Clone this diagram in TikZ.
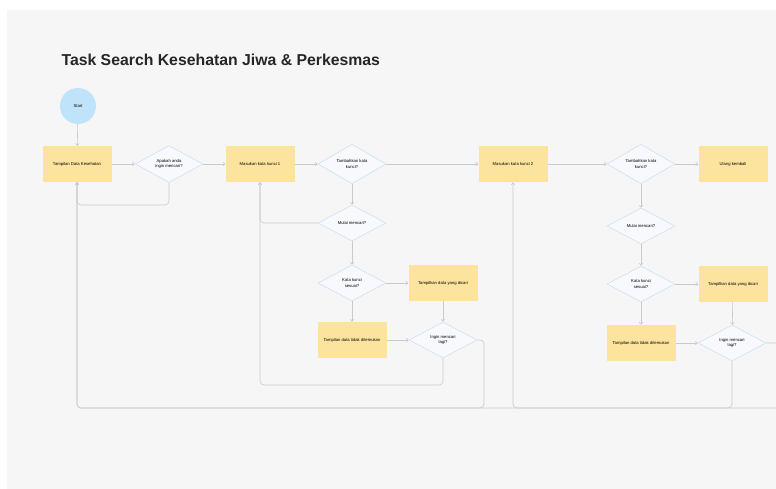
\documentclass[tikz,border=0pt]{standalone}
\usepackage{fontspec}
\setmainfont{Liberation Sans}
\usetikzlibrary{shapes.geometric,arrows.meta}
\definecolor{latar}{HTML}{F6F6F6}
\definecolor{kuning}{HTML}{FDE49E}
\definecolor{biru}{HTML}{BFE3FA}
\definecolor{garisbiru}{HTML}{CFE1F2}
\definecolor{isibiru}{HTML}{F7F9FC}
\definecolor{garis}{HTML}{CACACA}
\tikzset{
  kotak/.style={rectangle,fill=kuning,minimum width=69pt,minimum height=36pt,inner sep=1pt,
    font=\fontsize{4.2}{5.2}\selectfont,align=center},
  tanya/.style={diamond,draw=garisbiru,fill=isibiru,line width=0.6pt,minimum width=68pt,
    minimum height=36pt,inner sep=0pt,font=\fontsize{4.2}{5.6}\selectfont,align=center},
  alur/.style={draw=garis,line width=0.6pt,-{Straight Barb[length=2pt,width=3.5pt]},rounded corners=4pt}
}
\begin{document}
\begin{tikzpicture}[x=1pt,y=-1pt]
    \useasboundingbox (0,0) rectangle (776,489);
    \fill[white] (0,0) rectangle (776,489);
    \fill[latar] (7,10) rectangle (776,489);
    \clip (7,10) rectangle (776,489);
    % judul
    \node[anchor=west,font=\fontsize{15.8}{18}\selectfont\bfseries,text=black!85] (judul) at (58,60) {Task Search Kesehatan Jiwa \& Perkesmas};
    % titik bantu untuk jalur balik
    \coordinate (loopa) at (0,205);
    \coordinate (bawah1) at (0,385);
    \coordinate (bawah2) at (0,408);
    \coordinate (sisi1) at (484,0);
    \coordinate (sisi2) at (790,0);
    % bagian pertama
    \node[circle,fill=biru,minimum size=36pt,inner sep=0pt,font=\fontsize{4.2}{5}\selectfont] (start) at (78,106) {Start};
    \node[kotak] (tdk) at (77,164) {Tampilan Data Kesehatan};
    \node[tanya] (cari) at (169,164) {Apakah anda\\ingin mencari?};
    \node[kotak] (kk1) at (260,164) {Masukan kata kunci 1};
    \node[tanya] (tambah1) at (352,164) {Tambahkan kata\\kunci?};
    \node[tanya] (mulai1) at (352,223) {Mulai mencari?};
    \node[tanya] (sesuai1) at (352,283) {Kata kunci\\sesuai?};
    \node[kotak] (tampil1) at (443,283) {Tampilkan data yang dicari};
    \node[kotak] (tidak1) at (352,340) {Tampilan data tidak ditemukan};
    \node[tanya] (lagi1) at (443,340) {Ingin mencari\\lagi?};
    % bagian kedua
    \node[kotak] (kk2) at (513,164) {Masukan kata kunci 2};
    \node[tanya] (tambah2) at (641,164) {Tambahkan kata\\kunci?};
    \node[kotak] (ulang) at (733,164) {Ulang kembali};
    \node[tanya] (mulai2) at (641,226) {Mulai mencari?};
    \node[tanya] (sesuai2) at (641,284) {Kata kunci\\sesuai?};
    \node[kotak] (tampil2) at (733,284) {Tampilkan data yang dicari};
    \node[kotak] (tidak2) at (641,343) {Tampilan data tidak ditemukan};
    \node[tanya] (lagi2) at (732,343) {Ingin mencari\\lagi?};
    % alur
    \draw[alur] (start) -- (tdk);
    \draw[alur] (tdk) -- (cari);
    \draw[alur] (cari) -- (kk1);
    \draw[alur] (cari.south) |- (tdk.south |- loopa) -- (tdk.south);
    \draw[alur] (kk1) -- (tambah1);
    \draw[alur] (tambah1) -- (kk2);
    \draw[alur] (tambah1) -- (mulai1);
    \draw[alur] (mulai1.west) -| (kk1.south);
    \draw[alur] (mulai1) -- (sesuai1);
    \draw[alur] (sesuai1) -- (tampil1);
    \draw[alur] (sesuai1) -- (tidak1);
    \draw[alur] (tidak1) -- (lagi1);
    \draw[alur] (tampil1) -- (lagi1);
    \draw[alur] (lagi1.south) |- (kk1.south |- bawah1) -- (kk1.south);
    \draw[alur] (lagi1.east) -| (sisi1 |- bawah2) -| (tdk.south);
    \draw[alur] (kk2) -- (tambah2);
    \draw[alur] (tambah2) -- (ulang);
    \draw[alur] (tambah2) -- (mulai2);
    \draw[alur] (mulai2) -- (sesuai2);
    \draw[alur] (sesuai2) -- (tampil2);
    \draw[alur] (sesuai2) -- (tidak2);
    \draw[alur] (tidak2) -- (lagi2);
    \draw[alur] (tampil2) -- (lagi2);
    \draw[alur] (lagi2.south) |- (kk2.south |- bawah2) -- (kk2.south);
    \draw[alur] (lagi2.east) -| (sisi2 |- bawah2) -| (tdk.south);
\end{tikzpicture}
\end{document}
